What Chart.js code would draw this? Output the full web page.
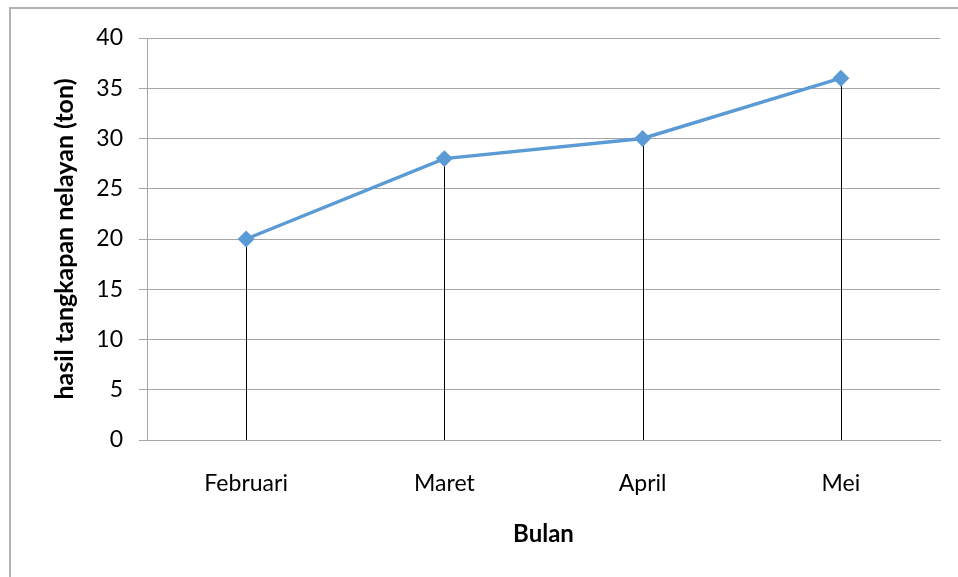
<!DOCTYPE html>
<html>
<head>
<meta charset="utf-8">
<script src="https://cdn.jsdelivr.net/npm/chart.js@4/dist/chart.umd.min.js"></script>
<style>
  html, body { margin: 0; padding: 0; background: #fff; }
  #wrap { position: relative; width: 958px; height: 577px; overflow: hidden; }
  #frame { position: absolute; left: 9px; top: 7px; width: 1000px; height: 700px;
           border: 2px solid #b3b3b3; box-sizing: border-box; }
  canvas { position: absolute; left: 0; top: 0; }
</style>
</head>
<body>
<div id="wrap">
  <div id="frame"></div>
  <canvas id="chart" width="958" height="577"></canvas>
</div>
<script>
const months = ['Februari', 'Maret', 'April', 'Mei'];
const catch_ton = [20, 28, 30, 36];
const yTicks = [0, 5, 10, 15, 20, 25, 30, 35, 40];

// vertical drop lines from each point down to the category axis
const dropLines = {
    id: 'dropLines',
    beforeDatasetsDraw(chart) {
        const ctx = chart.ctx;
        const meta = chart.getDatasetMeta(0);
        const bottom = chart.scales.y.getPixelForValue(0);
        ctx.save();
        ctx.strokeStyle = '#000';
        ctx.lineWidth = 1;
        meta.data.forEach(pt => {
            const x = Math.round(pt.x) + 0.5;
            ctx.beginPath();
            ctx.moveTo(x, pt.y);
            ctx.lineTo(x, bottom);
            ctx.stroke();
        });
        ctx.restore();
    }
};

const fontFam = 'Lato, "Open Sans", sans-serif';

let ctx = document.getElementById('chart').getContext('2d');
new Chart(ctx, {
    type: 'line',
    data: {
        labels: months,
        datasets: [{
            data: catch_ton,
            borderColor: '#5B9BD5',
            backgroundColor: '#5B9BD5',
            borderWidth: 3.5,
            pointStyle: 'rectRot',
            pointRadius: 6,
            pointHoverRadius: 6,
            tension: 0
        }]
    },
    options: {
        responsive: false,
        animation: false,
        layout: { padding: { top: 38, right: 18, left: 0, bottom: 0 } },
        plugins: {
            legend: { display: false },
            tooltip: { enabled: false }
        },
        scales: {
            x: {
                offset: true,
                grid: { display: false, drawTicks: false },
                border: { display: true, color: '#a6a6a6', width: 1 },
                ticks: { color: '#000', padding: 30, font: { family: fontFam, size: 23 } },
                title: {
                    display: true, text: 'Bulan', color: '#000',
                    font: { family: fontFam, size: 24, weight: 'bold' },
                    padding: { top: 0, bottom: 28 }
                },
                afterFit: s => { s.height = 137; }
            },
            y: {
                min: 0, max: 40,
                afterBuildTicks: s => { s.ticks = yTicks.map(v => ({ value: v })); },
                grid: { color: '#a6a6a6', tickColor: '#a6a6a6', tickLength: 8, lineWidth: 1 },
                border: { display: true, color: '#a6a6a6', width: 1 },
                ticks: { color: '#000', padding: 16, font: { family: fontFam, size: 23 } },
                title: {
                    display: true, text: 'hasil tangkapan nelayan (ton)', color: '#000',
                    font: { family: fontFam, size: 25, weight: 'bold' },
                    padding: { top: 50, bottom: 0 }
                },
                afterFit: s => { s.width = 147; }
            }
        }
    },
    plugins: [dropLines]
});
</script>
</body>
</html>
